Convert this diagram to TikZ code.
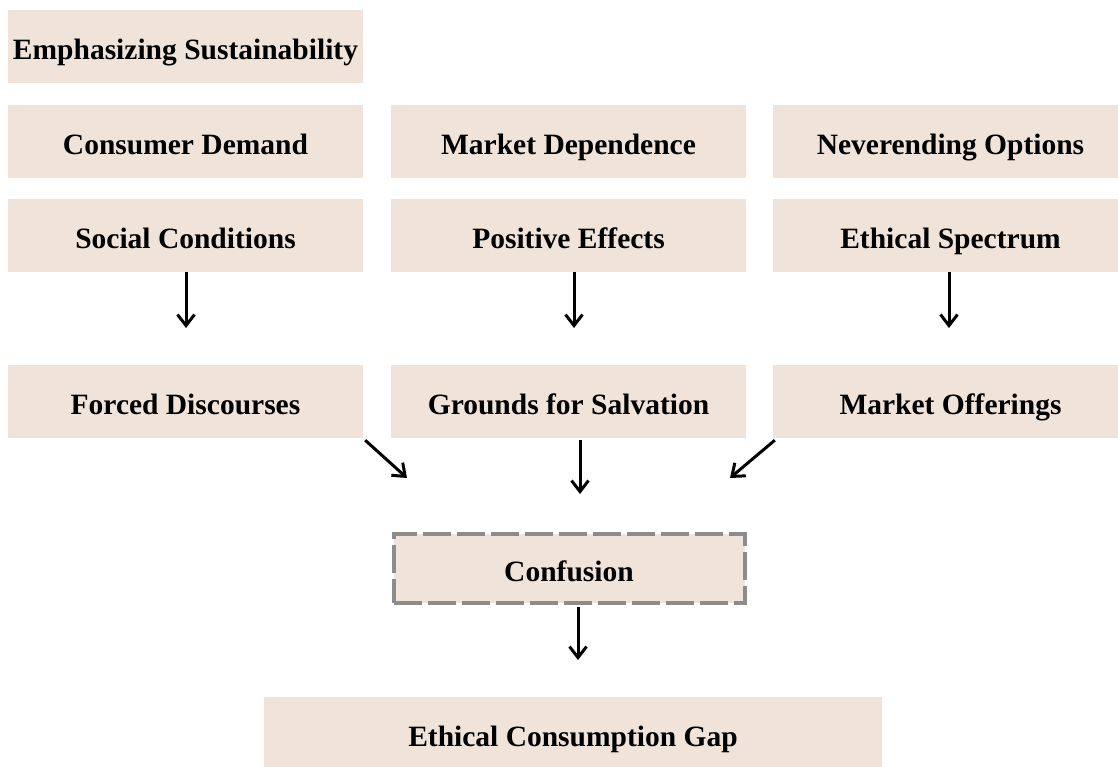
\documentclass[tikz,border=0pt]{standalone}
\usepackage{fontspec}
\setmainfont{Liberation Serif}
\usetikzlibrary{arrows.meta}
\definecolor{boxfill}{HTML}{F0E3DA}
\definecolor{dashgray}{HTML}{8C8C8C}
\tikzset{
  factor/.style={
      rectangle,
      fill=boxfill,
      minimum width=355pt,
      minimum height=73pt,
      inner sep=0pt,
      text height=27pt,
      text depth=2pt,
      font=\fontsize{29.5}{32}\selectfont\bfseries,
      text centered,
  },
  factor+/.style={
      factor,
      draw=dashgray,
      line width=4pt,
      dash pattern=on 28pt off 6pt,
      minimum width=351pt,
      minimum height=69pt,
  },
  flow/.style={
      -{Straight Barb[length=11pt,width=17pt,line width=3pt]},
      line width=3pt,
  }
}
\begin{document}
\begin{tikzpicture}[x=1pt,y=-1pt]
    \path[use as bounding box,clip] (0,0) rectangle (1118,766);
    % left column
    \node[factor] (emph) at (185.5,46.5) {Emphasizing Sustainability};
    \node[factor] (demand) at (185.5,141.5) {Consumer Demand};
    \node[factor] (social) at (185.5,235.5) {Social Conditions};
    \node[factor] (discourses) at (185.5,401.5) {Forced Discourses};
    % middle column
    \node[factor] (dependence) at (568.5,141.5) {Market Dependence};
    \node[factor] (effects) at (568.5,235.5) {Positive Effects};
    \node[factor] (salvation) at (568.5,401.5) {Grounds for Salvation};
    % right column
    \node[factor] (options) at (950.5,141.5) {Neverending Options};
    \node[factor] (spectrum) at (950.5,235.5) {Ethical Spectrum};
    \node[factor] (offerings) at (950.5,401.5) {Market Offerings};
    % outcome
    \node[factor+] (confusion) at (569,568.5) {Confusion};
    \node[factor, minimum width=618pt] (gap) at (573,733.5) {Ethical Consumption Gap};

    % arrow ends
    \coordinate (soc) at (186,328);
    \coordinate (eff) at (574,328);
    \coordinate (spe) at (949,328);
    \coordinate (dis) at (407,478);
    \coordinate (sal) at (580,494);
    \coordinate (off) at (730,478);
    \coordinate (con) at (578,660);

    \draw[flow] (social.south -| soc) -- (soc);
    \draw[flow] (effects.south -| eff) -- (eff);
    \draw[flow] (spectrum.south -| spe) -- (spe);
    \draw[flow] ([shift={(2,2)}]discourses.south east) -- (dis);
    \draw[flow] (salvation.south -| sal) ++(0,2) -- (sal);
    \draw[flow] ([shift={(2,2)}]offerings.south west) -- (off);
    \draw[flow] (confusion.south -| con) ++(0,2) -- (con);
\end{tikzpicture}
\end{document}
